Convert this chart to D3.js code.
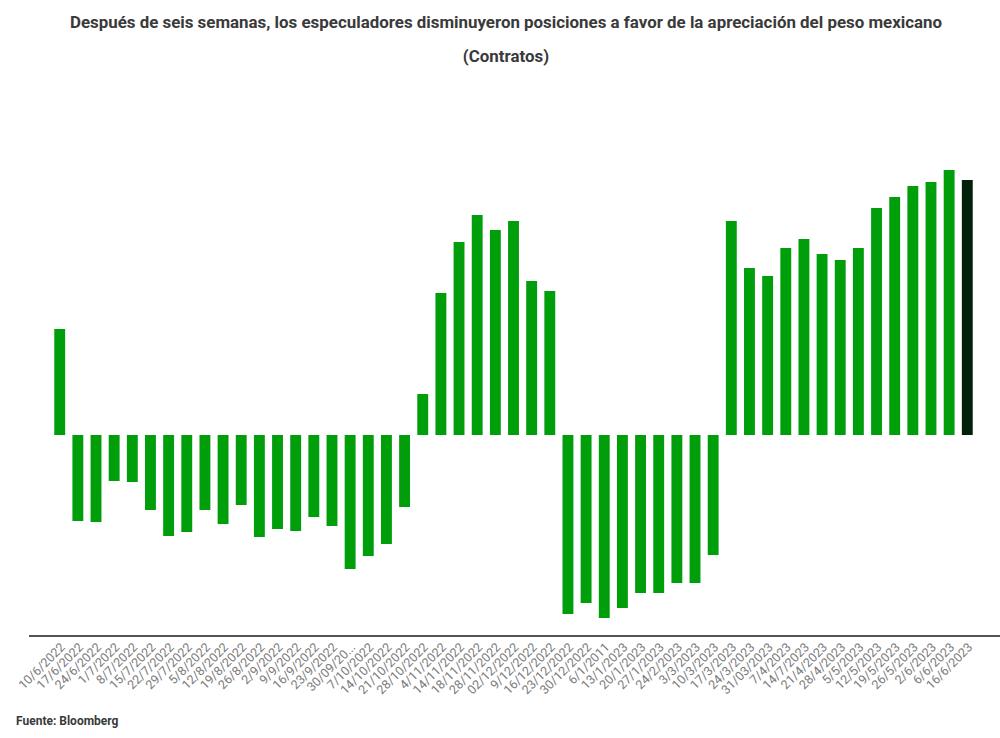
<!DOCTYPE html>
<html>
<head>
<meta charset="utf-8">
<script src="https://cdn.jsdelivr.net/npm/d3@7"></script>
<style>
  body { margin: 0; background: #fff; }
  svg { display: block; font-family: Roboto, "Noto Sans", sans-serif; }
</style>
</head>
<body>
<svg id="chart" width="1000" height="738"></svg>
<script>
var fechas = [
  "10/6/2022", "17/6/2022", "24/6/2022", "1/7/2022", "8/7/2022", "15/7/2022",
  "22/7/2022", "29/7/2022", "5/8/2022", "12/8/2022", "19/8/2022", "26/8/2022",
  "2/9/2022", "9/9/2022", "16/9/2022", "23/9/2022", "30/09/20...", "7/10/2022",
  "14/10/2022", "21/10/2022", "28/10/2022", "4/11/2022", "14/11/2022", "18/11/2022",
  "28/11/2022", "02/12/2022", "9/12/2022", "16/12/2022", "23/12/2022", "30/12/2022",
  "6/1/2011", "13/1/2023", "20/1/2023", "27/1/2023", "24/2/2023", "3/3/2023",
  "10/3/2023", "17/3/2023", "24/3/2023", "31/03/2023", "7/4/2023", "14/7/2023",
  "21/4/2023", "28/4/2023", "5/5/2023", "12/5/2023", "19/5/2023", "26/5/2023",
  "2/6/2023", "6/6/2023", "16/6/2023"
];

// contratos netos (estimados a partir de la imagen)
var contratos = [
  42400, -34400, -34800, -18400, -18800, -30000, -40400, -38800, -30000, -35600,
  -28000, -40800, -37600, -38400, -32800, -36400, -53600, -48400, -43600, -28800,
  16400, 56800, 77200, 88000, 82000, 85600, 61600, 57600, -71600, -67200,
  -73200, -69200, -63200, -63200, -59200, -59200, -48000, 85600, 66800, 63600,
  74800, 78400, 72400, 70000, 74800, 90800, 95200, 99600, 101200, 106000,
  102000
];

var titulo = "Después de seis semanas, los especuladores disminuyeron posiciones a favor de la apreciación del peso mexicano";
var subtitulo = "(Contratos)";
var fuente = "Fuente: Bloomberg";

function main() {
  var svg = d3.select("#chart");
  var data = fechas.map(function (f, i) {
    return { fecha: f, valor: contratos[i], ultimo: i === fechas.length - 1 };
  });

  var x = d3.scaleBand()
    .domain(fechas)
    .range([47, 980])
    .padding(0.4);

  var y = d3.scaleLinear()
    .domain([-80000, 110000])
    .range([635, 160]);

  svg.append("text")
    .attr("x", 506)
    .attr("y", 28)
    .attr("text-anchor", "middle")
    .attr("font-size", 16.9)
    .attr("font-weight", "bold")
    .attr("fill", "#3a3a3a")
    .text(titulo);

  svg.append("text")
    .attr("x", 506)
    .attr("y", 62)
    .attr("text-anchor", "middle")
    .attr("font-size", 16.9)
    .attr("font-weight", "bold")
    .attr("fill", "#3a3a3a")
    .text(subtitulo);

  svg.append("g")
    .attr("id", "barras")
    .selectAll("rect")
    .data(data)
    .enter()
    .append("rect")
    .attr("x", (d) => x(d.fecha))
    .attr("width", x.bandwidth())
    .attr("y", (d) => y(Math.max(0, d.valor)))
    .attr("height", (d) => Math.abs(y(d.valor) - y(0)))
    .attr("fill", (d) => (d.ultimo ? "#03200a" : "#009e0b"));

  // eje inferior: solo la línea y las etiquetas giradas
  var axis = d3.axisBottom(x).tickSize(0).tickPadding(0);
  var axisNode = svg.append("g")
    .attr("id", "ejeX")
    .attr("transform", "translate(0,636)")
    .call(axis);
  axisNode.select(".domain").remove();
  axisNode.append("line")
    .attr("x1", 29)
    .attr("x2", 1000)
    .attr("stroke", "#555")
    .attr("stroke-width", 2);
  axisNode.selectAll(".tick text")
    .attr("font-family", "Roboto, sans-serif")
    .attr("font-size", 12.5)
    .attr("fill", "#7a7a7a")
    .attr("text-anchor", "end")
    .attr("dy", 0)
    .attr("transform", "translate(6,12) rotate(-45)");

  svg.append("text")
    .attr("x", 16)
    .attr("y", 725)
    .attr("font-size", 12)
    .attr("font-weight", "bold")
    .attr("fill", "#3a3a3a")
    .text(fuente);
}
main();
</script>
</body>
</html>
